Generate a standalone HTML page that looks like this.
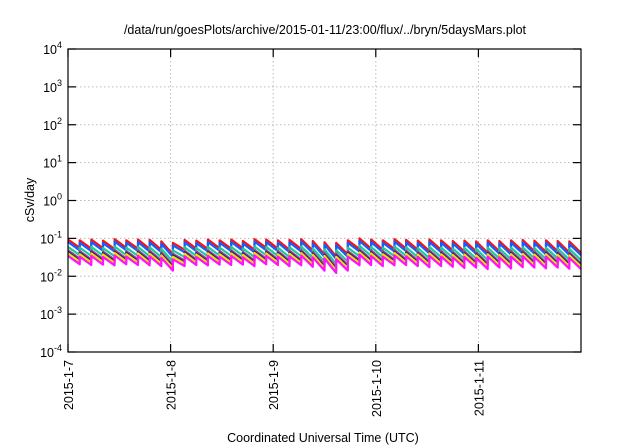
<!DOCTYPE html>
<html><head><meta charset="utf-8"><style>
body{margin:0;background:#fff}
svg{display:block;font-family:"Liberation Sans",sans-serif}
</style></head><body>
<svg id="chart" width="640" height="448" viewBox="0 0 640 448">
<text x="325" y="34" font-size="12.5" text-anchor="middle">/data/run/goesPlots/archive/2015-01-11/23:00/flux/../bryn/5daysMars.plot</text>
<g id="grid"></g>
<g id="series"></g>
<rect x="68" y="49" width="513" height="303" fill="none" stroke="#000" stroke-width="1.2"/>
<g id="axes"></g>
<text transform="translate(34,200) rotate(-90)" font-size="12.5" text-anchor="middle">cSv/day</text>
<text x="323" y="442" font-size="12.5" text-anchor="middle">Coordinated Universal Time (UTC)</text>
</svg>
<script>
const yExps=[-4,-3,-2,-1,0,1,2,3,4];
const xTickLabels=["2015-1-7","2015-1-8","2015-1-9","2015-1-10","2015-1-11"];
const seriesNames=["red","blue","teal","mauve","navy","yellow","magenta"];
const seriesColors=["#ff1010","#1060ff","#20c8a0","#a04880","#302090","#f0e000","#ff10ff"];
const seriesFactors=[1.0,0.86,0.64,0.52,0.47,0.43,0.37];
const peakLog=[-1.03,-1.05,-1.03,-1.06,-1.02,-1.05,-1.03,-1.04,-1.08,-1.12,-1.04,-1.06,-1.03,-1.05,-1.03,-1.07,-1.02,-1.03,-1.05,-1.04,-1.02,-1.07,-1.1,-1.12,-1.05,-1.0,-1.03,-1.05,-1.02,-1.04,-1.06,-1.03,-1.05,-1.07,-1.06,-1.08,-1.05,-1.07,-1.05,-1.04,-1.06,-1.05,-1.07,-1.08];
const troughLog=[-1.25,-1.27,-1.26,-1.28,-1.25,-1.27,-1.28,-1.3,-1.42,-1.3,-1.27,-1.28,-1.26,-1.27,-1.26,-1.3,-1.25,-1.27,-1.3,-1.28,-1.32,-1.42,-1.48,-1.42,-1.28,-1.27,-1.3,-1.28,-1.27,-1.3,-1.33,-1.3,-1.32,-1.35,-1.34,-1.38,-1.34,-1.36,-1.33,-1.34,-1.36,-1.34,-1.37,-1.38];
const NS="http://www.w3.org/2000/svg";
const L=68,R=581,T=49,B=352,days=5,stepDay=days/peakLog.length;
const xs=d=>L+(R-L)*d/days;
const ys=lv=>B-(B-T)*(lv+4)/8;
function mk(tag,attrs,parent){const e=document.createElementNS(NS,tag);for(const k in attrs)e.setAttribute(k,attrs[k]);parent.appendChild(e);return e;}
const grid=document.getElementById('grid'),axes=document.getElementById('axes'),sg=document.getElementById('series');
yExps.forEach(e=>{const y=ys(e);
 if(e>-4&&e<4){const g=mk('line',{x1:L,x2:R,y1:y,y2:y,stroke:'#bbb','stroke-dasharray':'1.5,2.5','stroke-width':1},grid);
 }
 const t1=mk('line',{x1:L,x2:L+8,y1:y,y2:y,stroke:'#000','stroke-width':1.2},axes);
 
 const t2=mk('line',{x1:R-8,x2:R,y1:y,y2:y,stroke:'#000','stroke-width':1.2},axes);
 
 const tx=mk('text',{x:62,y:y+5,'font-size':'12.5','text-anchor':'end'},axes);
 
 tx.appendChild(document.createTextNode('10'));
 const sp=mk('tspan',{dy:-6,'font-size':'9'},tx);sp.textContent=String(e);
});
xTickLabels.forEach((lab,i)=>{const x=xs(i);
 if(i>0){const g=mk('line',{x1:x,x2:x,y1:T,y2:B,stroke:'#bbb','stroke-dasharray':'1.5,2.5','stroke-width':1},grid);
 }
 const t1=mk('line',{x1:x,x2:x,y1:B,y2:B-8,stroke:'#000','stroke-width':1.2},axes);
 
 const t2=mk('line',{x1:x,x2:x,y1:T,y2:T+8,stroke:'#000','stroke-width':1.2},axes);
 
 const tx=mk('text',{transform:`translate(${x+5},360) rotate(-90)`,'font-size':'12.5','text-anchor':'end'},axes);
 
 tx.textContent=lab;
});
seriesNames.forEach((nm,si)=>{const f=Math.log10(seriesFactors[si]);let pts=[];
 peakLog.forEach((p,i)=>{const t0=i*stepDay,t1=(i+1)*stepDay;
  pts.push(xs(t0).toFixed(1)+','+ys(p+f).toFixed(1));
  pts.push(xs(t1).toFixed(1)+','+ys(troughLog[i]+f).toFixed(1));});
 const pl=mk('polyline',{points:pts.join(' '),fill:'none',stroke:seriesColors[si],'stroke-width':2.2,'stroke-linejoin':'round'},sg);
 
 
});
</script>
</body></html>
